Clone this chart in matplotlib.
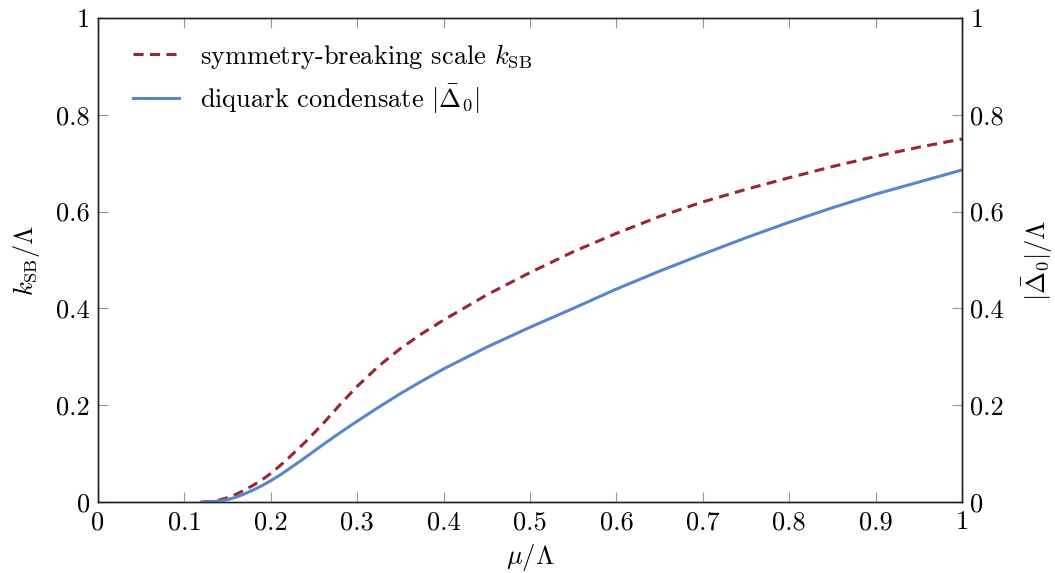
import numpy as np
import matplotlib
matplotlib.use('Agg')
import matplotlib.pyplot as plt
from matplotlib.ticker import FuncFormatter

plt.rcParams['font.family'] = ['cmr10', 'DejaVu Serif']
plt.rcParams['mathtext.fontset'] = 'cm'
plt.rcParams['axes.formatter.use_mathtext'] = True
plt.rcParams['font.size'] = 19

# values
mu = [0.12, 0.13, 0.14, 0.15, 0.16, 0.17, 0.18, 0.19, 0.20, 0.21, 0.22, 0.24, 0.26, 0.28,
      0.30, 0.325, 0.35, 0.375, 0.40, 0.45, 0.50, 0.55, 0.60, 0.65, 0.70, 0.75, 0.80,
      0.85, 0.90, 0.95, 1.00]
k_sb = [0.0, 0.001, 0.004, 0.009, 0.016, 0.025, 0.035, 0.046, 0.059, 0.074, 0.090, 0.124,
        0.161, 0.201, 0.239, 0.281, 0.317, 0.348, 0.376, 0.428, 0.474, 0.517, 0.555, 0.590,
        0.620, 0.646, 0.670, 0.693, 0.714, 0.733, 0.750]
delta0 = [0.0, 0.0005, 0.002, 0.005, 0.010, 0.017, 0.025, 0.034, 0.044, 0.055, 0.067, 0.092,
          0.118, 0.143, 0.167, 0.196, 0.224, 0.250, 0.275, 0.320, 0.361, 0.400, 0.440, 0.477,
          0.512, 0.546, 0.578, 0.608, 0.636, 0.661, 0.686]

x_ticks = [0, 0.1, 0.2, 0.3, 0.4, 0.5, 0.6, 0.7, 0.8, 0.9, 1]
y_ticks = [0, 0.2, 0.4, 0.6, 0.8, 1]

red = '#9b2533'
blue = '#5886cc'

fmt = FuncFormatter(lambda v, p: '%g' % round(v, 3))

fig = plt.figure(figsize=(10.55, 5.73), dpi=100)
ax1 = fig.add_axes([98/1055, 1-502/573, 864/1055, 484/573])
ax2 = ax1.twinx()

ax1.plot(mu, k_sb, color=red, lw=2.2, ls=(0, (3.3, 2.1)), label=r'symmetry-breaking scale $k_{\mathrm{SB}}$')
ax2.plot(mu, delta0, color=blue, lw=2.2, ls='-', label=r'diquark condensate $|\bar{\Delta}_0|$')

for ax in (ax1, ax2):
    ax.set_xlim(0, 1)
    ax.set_ylim(0, 1)
    ax.set_yticks(y_ticks)
    ax.yaxis.set_major_formatter(fmt)
    for s in ax.spines.values():
        s.set_linewidth(1.0)
        s.set_color('#222222')
ax1.set_xticks(x_ticks)
ax1.xaxis.set_major_formatter(fmt)
ax1.tick_params(axis='both', direction='in', length=7, width=0.8, color='#999999', top=True, pad=6)
ax2.tick_params(axis='y', direction='in', length=7, width=0.8, color='#999999', pad=6)

ax1.set_xlabel(r'$\mu/\Lambda$', labelpad=6)
ax1.set_ylabel(r'$k_{\mathrm{SB}}/\Lambda$', labelpad=10)
ax2.set_ylabel(r'$|\bar{\Delta}_0|/\Lambda$', rotation=90, labelpad=12)

h1, l1 = ax1.get_legend_handles_labels()
h2, l2 = ax2.get_legend_handles_labels()
ax1.legend(h1 + h2, l1 + l2, loc='upper left', frameon=False, handlelength=1.75,
           handletextpad=0.8, bbox_to_anchor=(0.013, 1.0), labelspacing=0.45)

fig.savefig('out.png', dpi=100)
